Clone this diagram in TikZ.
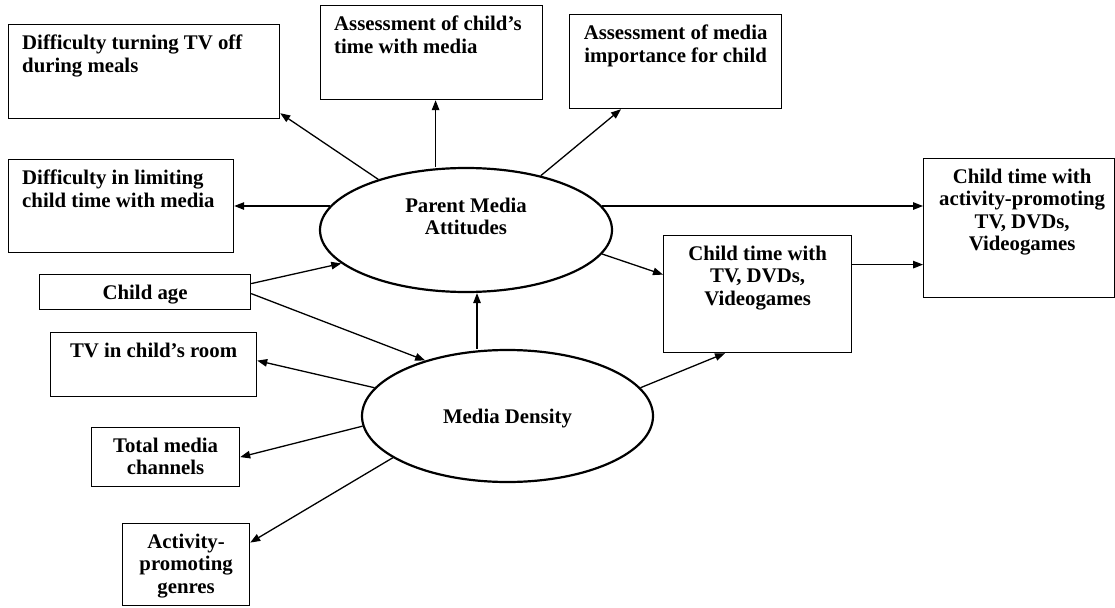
\documentclass[tikz,border=0pt]{standalone}
\usepackage{fontspec}
\setmainfont{Liberation Serif}
\usetikzlibrary{arrows.meta,shapes.geometric}
\newcommand{\diagfont}{\bfseries\fontsize{20.8}{22.5}\selectfont}
\begin{document}
\begin{tikzpicture}[x=1pt,y=-1pt,
  box/.style={draw, line width=1.2pt, inner sep=0pt, anchor=north west},
  oval/.style={draw, ellipse, line width=2.2pt, inner sep=0pt},
  lefttext/.style={anchor=north west, inner sep=0pt, align=left,
    xshift=14pt, yshift=-10.7pt, font=\diagfont},
  midtext/.style={anchor=north, inner sep=0pt, align=center,
    yshift=-10.7pt, font=\diagfont},
  ovaltext/.style={anchor=north, inner sep=0pt, align=center, font=\diagfont},
  arr/.style={line width=1.3pt, -{Triangle[length=10pt,width=7.5pt]}}
]
\useasboundingbox (0,0) rectangle (1115,607);
\fill[white] (0,0) rectangle (1115,607);

% parent attitude indicators
\node[box, minimum width=271pt, minimum height=94pt,
  label={[lefttext]north west:{Difficulty turning TV off\\during meals}}] (dmeals) at (8,24) {};
\node[box, minimum width=222pt, minimum height=94pt,
  label={[lefttext]north west:{Assessment of child’s\\time with media}}] (achild) at (320,5) {};
\node[box, minimum width=212pt, minimum height=94pt,
  label={[midtext]north:{Assessment of media\\importance for child}}] (amedia) at (569,14) {};
\node[box, minimum width=225pt, minimum height=93pt,
  label={[lefttext]north west:{Difficulty in limiting\\child time with media}}] (dlimit) at (8,159) {};

% predictors and media density indicators
\node[box, minimum width=211pt, minimum height=35pt,
  label={[midtext]north:{Child age}}] (cage) at (39,274) {};
\node[box, minimum width=206pt, minimum height=64pt,
  label={[midtext]north:{TV in child’s room}}] (tvroom) at (50,332) {};
\node[box, minimum width=148pt, minimum height=59pt,
  label={[midtext]north:{Total media\\channels}}] (tmc) at (91,427) {};
\node[box, minimum width=127pt, minimum height=82pt,
  label={[midtext]north:{Activity-\\promoting\\genres}}] (apg) at (122,523) {};

% outcomes
\node[box, minimum width=188pt, minimum height=117pt,
  label={[midtext]north:{Child time with\\TV, DVDs,\\Videogames}}] (childTV) at (663,235) {};
\node[box, minimum width=191pt, minimum height=139pt,
  label={[midtext, xshift=3pt]north:{Child time with\\activity-promoting\\TV, DVDs,\\Videogames}}] (actTV) at (923,158) {};

% latent constructs
\node[oval, minimum width=292pt, minimum height=124pt] (pma) at (466,230) {};
\node[ovaltext] (pmatxt) at ([yshift=32.3pt]pma.center) {Parent Media\\Attitudes};
\node[oval, minimum width=291pt, minimum height=132pt] (md) at (507.5,416) {};
\node[ovaltext] (mdtxt) at ([yshift=7.3pt]md.center) {Media Density};

% paths
\draw[arr] (pma.150.6) -- ([yshift=6pt]dmeals.south east);
\draw[arr] ([xshift=4pt]achild.south |- pma.north) -- ([xshift=4pt]achild.south);
\draw[arr] (pma.36) -- ([xshift=52pt]amedia.south west);
\draw[arr] (pma.170) -- (pma.170 -| dlimit.east);
\draw[arr] (pma.10) -- (pma.10 -| actTV.west);
\draw[arr] (pma.350) -- ([yshift=19.5pt]childTV.west);
\draw[arr] ([yshift=8.5pt]cage.east) -- (pma.195);
\draw[arr] ([yshift=-1.5pt]cage.east) -- (md.146);
\draw[arr] ([xshift=-30.5pt]md.north) -- ([xshift=-30.5pt]md.north |- pma.south);
\draw[arr] (md.168) -- ([yshift=4pt]tvroom.east);
\draw[arr] (md.184) -- (tmc.east);
\draw[arr] (md.200) -- ([yshift=22pt]apg.east);
\draw[arr] (md.12) -- ([xshift=62pt]childTV.south west);
\draw[arr] ([yshift=29.5pt]childTV.east) -- ([yshift=29.5pt]childTV.east -| actTV.west);
\end{tikzpicture}
\end{document}
